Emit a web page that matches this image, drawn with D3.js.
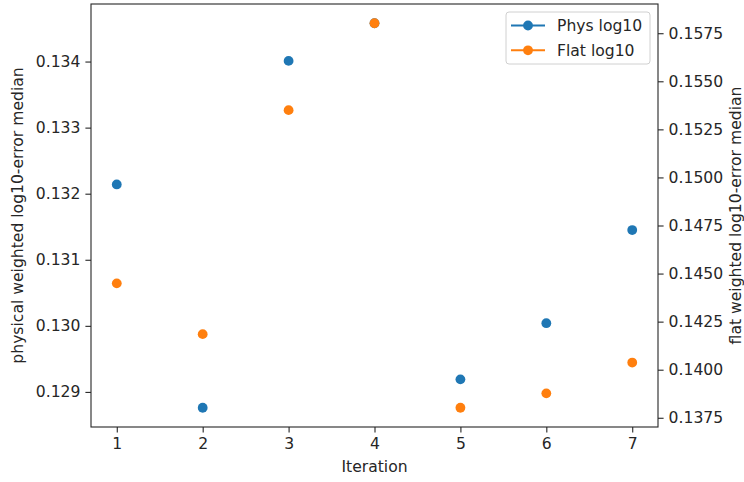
<!DOCTYPE html>
<html>
<head>
<meta charset="utf-8">
<script src="https://cdn.jsdelivr.net/npm/d3@7"></script>
<style>
  html, body { margin: 0; padding: 0; background: #fff; }
  svg { display: block; font-family: "DejaVu Sans", sans-serif; }
</style>
</head>
<body>
<svg id="chart" width="744" height="482"></svg>
<script>
// Median log10 error per iteration, physical and flat weighting
const iterations = [1, 2, 3, 4, 5, 6, 7];
const physLog10 = [0.13214, 0.12876, 0.13401, 0.13458, 0.12919, 0.13004, 0.13145];
const flatLog10 = [0.14449, 0.14185, 0.15350, 0.15802, 0.13802, 0.13877, 0.14037];
const leftTicks = [0.129, 0.130, 0.131, 0.132, 0.133, 0.134];
const rightTicks = [0.1375, 0.1400, 0.1425, 0.1450, 0.1475, 0.1500, 0.1525, 0.1550, 0.1575];
const seriesNames = ["Phys log10", "Flat log10"];
const seriesColors = ["#1f77b4", "#ff7f0e"];

const svg = d3.select("#chart");
const m = { left: 91, top: 4, right: 658, bottom: 427 };
const fontPx = 15.6;
const tickLen = 5.6;
const textColor = "#262626";

function padded(vals, frac) {
  const lo = d3.min(vals), hi = d3.max(vals), r = hi - lo;
  return [lo - frac * r, hi + frac * r];
}

const x = d3.scaleLinear().domain(padded(iterations, 0.05)).range([m.left, m.right]);
const yL = d3.scaleLinear().domain(padded(physLog10, 0.05)).range([m.bottom, m.top]);
const yR = d3.scaleLinear().domain(padded(flatLog10, 0.05)).range([m.bottom, m.top]);

// Axes
function styleAxis(g) {
  g.selectAll(".domain").remove();
  g.selectAll(".tick line").attr("stroke", textColor).attr("stroke-width", 1.1);
  g.selectAll(".tick text").attr("fill", textColor).style("font-size", fontPx + "px")
    .style("font-family", "DejaVu Sans, sans-serif");
}

svg.append("g")
  .attr("transform", `translate(0,${m.bottom})`)
  .call(d3.axisBottom(x).tickValues(iterations).tickFormat(d3.format("d"))
    .tickSize(tickLen).tickPadding(5))
  .call(styleAxis);

svg.append("g")
  .attr("transform", `translate(${m.left},0)`)
  .call(d3.axisLeft(yL).tickValues(leftTicks).tickFormat(d3.format(".3f"))
    .tickSize(tickLen).tickPadding(5))
  .call(styleAxis);

svg.append("g")
  .attr("transform", `translate(${m.right},0)`)
  .call(d3.axisRight(yR).tickValues(rightTicks).tickFormat(d3.format(".4f"))
    .tickSize(tickLen).tickPadding(5))
  .call(styleAxis);

// Frame
svg.append("rect")
  .attr("x", m.left).attr("y", m.top)
  .attr("width", m.right - m.left).attr("height", m.bottom - m.top)
  .attr("fill", "none").attr("stroke", textColor).attr("stroke-width", 1.1);

// Points
const r = 4.9;
svg.append("g").selectAll("circle")
  .data(iterations.map((it, i) => ({ it, v: physLog10[i] })))
  .join("circle")
  .attr("cx", d => x(d.it)).attr("cy", d => yL(d.v)).attr("r", r)
  .attr("fill", seriesColors[0]);

svg.append("g").selectAll("circle")
  .data(iterations.map((it, i) => ({ it, v: flatLog10[i] })))
  .join("circle")
  .attr("cx", d => x(d.it)).attr("cy", d => yR(d.v)).attr("r", r)
  .attr("fill", seriesColors[1]);

// Axis titles
svg.append("text")
  .attr("x", (m.left + m.right) / 2).attr("y", 472)
  .attr("text-anchor", "middle").attr("fill", textColor)
  .style("font-size", fontPx + "px").text("Iteration");

svg.append("text")
  .attr("transform", `translate(23,${(m.top + m.bottom) / 2}) rotate(-90)`)
  .attr("text-anchor", "middle").attr("fill", textColor)
  .style("font-size", fontPx + "px").text("physical weighted log10-error median");

svg.append("text")
  .attr("transform", `translate(741,${(m.top + m.bottom) / 2}) rotate(-90)`)
  .attr("text-anchor", "middle").attr("fill", textColor)
  .style("font-size", fontPx + "px").text("flat weighted log10-error median");

// Legend
const lg = svg.append("g");
lg.append("rect")
  .attr("x", 506).attr("y", 12).attr("width", 144).attr("height", 52)
  .attr("rx", 3).attr("fill", "#fff").attr("fill-opacity", 0.8)
  .attr("stroke", "#d0d0d0").attr("stroke-width", 1);
seriesNames.forEach((name, i) => {
  const cy = 25.5 + i * 24.8;
  lg.append("line").attr("x1", 511).attr("x2", 545).attr("y1", cy).attr("y2", cy)
    .attr("stroke", seriesColors[i]).attr("stroke-width", 2);
  lg.append("circle").attr("cx", 528).attr("cy", cy).attr("r", r).attr("fill", seriesColors[i]);
  lg.append("text").attr("x", 557).attr("y", cy).attr("dy", "0.36em")
    .attr("fill", textColor).style("font-size", fontPx + "px").text(name);
});
</script>
</body>
</html>
